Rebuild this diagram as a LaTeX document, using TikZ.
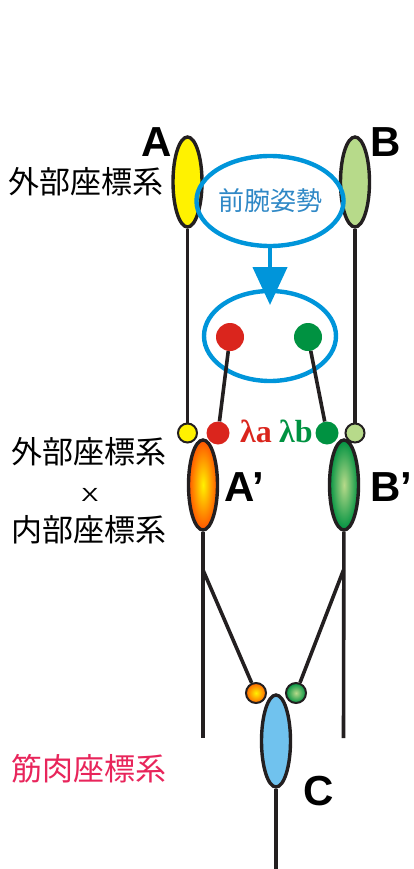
\documentclass[tikz,border=0pt]{standalone}
\usepackage{graphicx}
\usepackage{fontspec}
\setmainfont{Liberation Sans}
\newfontfamily\cjk{Noto Sans CJK JP}
\newfontfamily\grk{Liberation Serif}
\usetikzlibrary{shapes.geometric,arrows.meta}

\definecolor{lineblack}{HTML}{231F20}
\definecolor{posebl}{HTML}{0095DA}
\definecolor{posetext}{HTML}{2F88C6}
\definecolor{lred}{HTML}{DA251D}
\definecolor{lgreen}{HTML}{009241}
\definecolor{ayellow}{HTML}{FFF200}
\definecolor{bgreen}{HTML}{B7DA8A}
\definecolor{cblue}{HTML}{70C2EE}
\definecolor{muscle}{HTML}{E8255B}

\begin{document}
\begin{tikzpicture}
    [x=1pt,y=-1pt,
     bar/.style={ellipse,draw=lineblack,line width=3.4pt,
       inner sep=0pt,minimum width=29pt,minimum height=90pt},
     place/.style={circle,inner sep=0pt},
     wire/.style={draw=lineblack,line width=3.6pt},
     pose/.style={ellipse,draw=posebl,line width=4.4pt,
       inner sep=0pt,minimum width=132pt,minimum height=90pt},
     letter/.style={font=\fontsize{42}{42}\selectfont\bfseries,inner sep=0pt},
     kanji/.style={font=\fontsize{31}{31}\selectfont\cjk,inner sep=0pt},
     lambda/.style={font=\fontsize{32}{32}\selectfont\grk\bfseries,inner sep=0pt,anchor=base}]
    \useasboundingbox (0,0) rectangle (413,869);

    % upper pair
    \node[bar, fill=ayellow] (A) at (187.5,182) {};
    \node[bar, fill=bgreen] (B) at (355,182) {};
    \node[letter] (Alabel) at (157,142) {A};
    \node[letter] (Blabel) at (386,142) {B};
    \node[kanji] (outer) at (86,182) {外部座標系};

    % forearm posture
    \node[pose] (pose) at (270,201)
      {\fontsize{26}{26}\selectfont\cjk\color{posetext}前腕姿勢};
    \node[pose] (hold) at (270,336) {};
    \coordinate (tip) at (270,305);
    \draw[posebl, line width=4.4pt, -{Triangle[length=38pt,width=34pt]}] (pose) -- (tip);

    \node[place, fill=lred, minimum size=28pt] (ra) at (230,337) {};
    \node[place, fill=lgreen, minimum size=28pt] (ga) at (308,337) {};

    % joint dots
    \node[place, draw=lineblack, line width=2pt, fill=ayellow, minimum size=19pt] (ya) at (187.5,433) {};
    \node[place, draw=lineblack, line width=2pt, fill=bgreen, minimum size=19pt] (yb) at (355,433) {};
    \node[place, fill=lred, minimum size=23pt] (ra2) at (218,433) {};
    \node[place, fill=lgreen, minimum size=23pt] (ga2) at (327,433) {};
    \node[lambda, text=lred] (la) at (256,442) {λa};
    \node[lambda, text=lgreen] (lb) at (296,442) {λb};

    \draw[wire] (A) -- (ya);
    \draw[wire] (B) -- (yb);
    \draw[wire] (ra) -- (ra2);
    \draw[wire] (ga) -- (ga2);

    % mixed pair
    \node[bar, inner color=ayellow, outer color=orange!65!red] (Ap) at (203,485) {};
    \node[bar, inner color=bgreen, outer color=lgreen] (Bp) at (344,485) {};
    \node[letter] (Aplabel) at (244,487) {A’};
    \node[letter] (Bplabel) at (391,487) {B’};
    \node[kanji] (mixa) at (89,452) {外部座標系};
    \node[inner sep=0pt] (mixx) at (90,495)
      {\scalebox{1.35}[1]{\fontsize{19}{19}\selectfont X}};
    \node[kanji] (mixb) at (89,530) {内部座標系};

    \coordinate (aend) at (203,738);
    \coordinate (bend) at (343.5,738);
    \coordinate (asplit) at (203,570);
    \coordinate (bsplit) at (343.5,570);
    \node[place, draw=lineblack, line width=2pt, inner color=ayellow,
      outer color=orange!80!red, minimum size=20pt] (oa) at (256,693) {};
    \node[place, draw=lineblack, line width=2pt, inner color=bgreen,
      outer color=lgreen, minimum size=20pt] (ob) at (296,693) {};

    \draw[wire] (Ap) -- (aend);
    \draw[wire] (Bp) -- (bend);
    \draw[wire] (asplit) -- (oa);
    \draw[wire] (bsplit) -- (ob);

    % muscle
    \node[bar, fill=cblue, minimum height=92pt] (C) at (276,741) {};
    \node[letter] (Clabel) at (319,791) {C};
    \node[kanji, text=muscle] (musc) at (89,769) {筋肉座標系};
    \coordinate (cend) at (276,869);
    \draw[wire] (C) -- (cend);
\end{tikzpicture}
\end{document}
